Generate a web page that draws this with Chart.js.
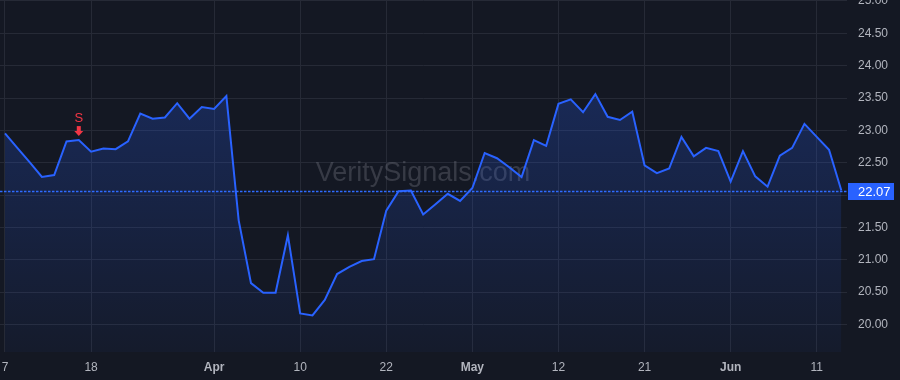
<!DOCTYPE html>
<html><head><meta charset="utf-8">
<script src="https://cdn.jsdelivr.net/npm/chart.js@4/dist/chart.umd.min.js"></script>
<style>html,body{margin:0;padding:0;background:#141823;overflow:hidden}</style>
</head><body>
<canvas id="c" width="900" height="380" style="display:block;width:900px;height:380px"></canvas>
<script>
// ---- data ----
const prices = [22.955,22.73,22.51,22.28,22.31,22.83,22.85,22.67,22.72,22.71,
  22.83,23.26,23.18,23.20,23.42,23.18,23.36,23.33,23.53,21.61,
  20.64,20.49,20.49,21.38,20.17,20.14,20.38,20.78,20.89,20.98,
  21.01,21.76,22.06,22.07,21.70,21.86,22.02,21.91,22.11,22.65,
  22.57,22.43,22.28,22.85,22.76,23.41,23.48,23.28,23.56,23.21,
  23.16,23.29,22.46,22.34,22.41,22.90,22.60,22.73,22.68,22.21,
  22.68,22.29,22.13,22.61,22.73,23.10,22.90,22.70,22.07];
const tickIndices = [0,7,17,24,31,38,45,52,59,66];
const tickLabels = ['7','18','Apr','10','22','May','12','21','Jun','11'];
const monthLabels = ['Apr','May','Jun'];
const yTicks = [20,20.5,21,21.5,22,22.5,23,23.5,24,24.5,25];
const lastPrice = 22.07;
const signalIndex = 6;
const signalLabel = 'S';
const watermark = 'VeritySignals.com';

const FONT = "'Liberation Sans', Arial, sans-serif";
const BG = '#141823';
const GRID = '#262a36';
const BLUE = '#2962ff';
const TXT = '#b2b5be';

const points = prices.map((v,i)=>({x:i,y:v}));
const labelFor = v => { const k = tickIndices.indexOf(v); return k>=0 ? tickLabels[k] : ''; };

const bgPlugin = {
  id:'bg',
  beforeDraw(chart){
    const c = chart.ctx; c.save(); c.fillStyle = BG; c.fillRect(0,0,chart.width,chart.height); c.restore();
  }
};
const wmPlugin = {
  id:'wm',
  beforeDatasetsDraw(chart){
    const c = chart.ctx;
    c.save();
    c.font = "27px " + FONT;
    c.fillStyle = 'rgba(120,123,134,0.35)';
    c.textAlign = 'center'; c.textBaseline = 'alphabetic';
    c.fillText(watermark, 423, 181);
    c.restore();
  }
};
const overlayPlugin = {
  id:'overlay',
  afterDatasetsDraw(chart){
    const c = chart.ctx; const a = chart.chartArea;
    const xs = chart.scales.x, ys = chart.scales.y;
    c.save();
    // last price dashed line
    const yl = Math.round(ys.getPixelForValue(lastPrice));
    c.strokeStyle = '#2f6bff'; c.lineWidth = 1.6; c.setLineDash([2.5,1.5]);
    c.beginPath(); c.moveTo(a.left, yl+0.5); c.lineTo(a.right, yl+0.5); c.stroke();
    c.setLineDash([]);
    // price label
    c.fillStyle = BLUE;
    c.fillRect(a.right+1, yl-8, 46, 17);
    c.fillStyle = '#ffffff'; c.font = "13px " + FONT;
    c.textAlign = 'left'; c.textBaseline = 'middle';
    c.fillText(lastPrice.toFixed(2), a.right+11, yl+1);
    // signal marker
    const px = xs.getPixelForValue(signalIndex);
    const py = ys.getPixelForValue(prices[signalIndex]);
    c.fillStyle = '#f23645';
    c.font = "13px " + FONT; c.textAlign = 'center'; c.textBaseline = 'middle';
    c.fillText(signalLabel, px, py-22);
    const top = py-14;
    c.fillRect(px-2, top, 4, 5);
    c.beginPath(); c.moveTo(px-4.5, top+5); c.lineTo(px+4.5, top+5); c.lineTo(px, top+10); c.closePath(); c.fill();
    c.restore();
  }
};

new Chart(document.getElementById('c'), {
  type:'line',
  data:{ datasets:[{
    data: points,
    borderColor: BLUE,
    borderWidth: 2,
    pointRadius: 0,
    tension: 0,
    fill: 'start',
    backgroundColor: (ctx)=>{
      const ch = ctx.chart; const a = ch.chartArea;
      if(!a) return 'rgba(41,98,255,0.15)';
      const g = ch.ctx.createLinearGradient(0, a.top, 0, a.bottom);
      g.addColorStop(0,'rgba(41,98,255,0.30)');
      g.addColorStop(1,'rgba(41,98,255,0.04)');
      return g;
    }
  }]},
  options:{
    responsive:false, animation:false, devicePixelRatio:1,
    layout:{padding:0, autoPadding:false},
    plugins:{legend:{display:false}, tooltip:{enabled:false}},
    scales:{
      x:{
        type:'linear', min:-0.4065, max:68.46,
        grid:{color:GRID, drawTicks:false},
        border:{display:false},
        afterBuildTicks(s){ s.ticks = tickIndices.map(v=>({value:v})); },
        afterFit(s){ s.height = 28; s.paddingLeft=0; s.paddingRight=0; },
        ticks:{
          autoSkip:false, maxRotation:0, padding:8, color:TXT,
          font:(ctx)=>({family:FONT, size:12, weight: (ctx.tick && monthLabels.includes(labelFor(ctx.tick.value))) ? 'bold':'normal'}),
          callback:(v)=>labelFor(v)
        }
      },
      y:{
        position:'right', min:19.575, max:25.015,
        grid:{color:GRID, drawTicks:false},
        border:{display:false},
        afterBuildTicks(s){ s.ticks = yTicks.map(v=>({value:v})); },
        afterFit(s){ s.width = 53; s.paddingTop=0; s.paddingBottom=0; },
        ticks:{ padding:11, color:TXT, font:{family:FONT, size:12}, callback:(v)=>Number(v).toFixed(2) }
      }
    }
  },
  plugins:[bgPlugin, wmPlugin, overlayPlugin]
});
</script>
</body></html>
